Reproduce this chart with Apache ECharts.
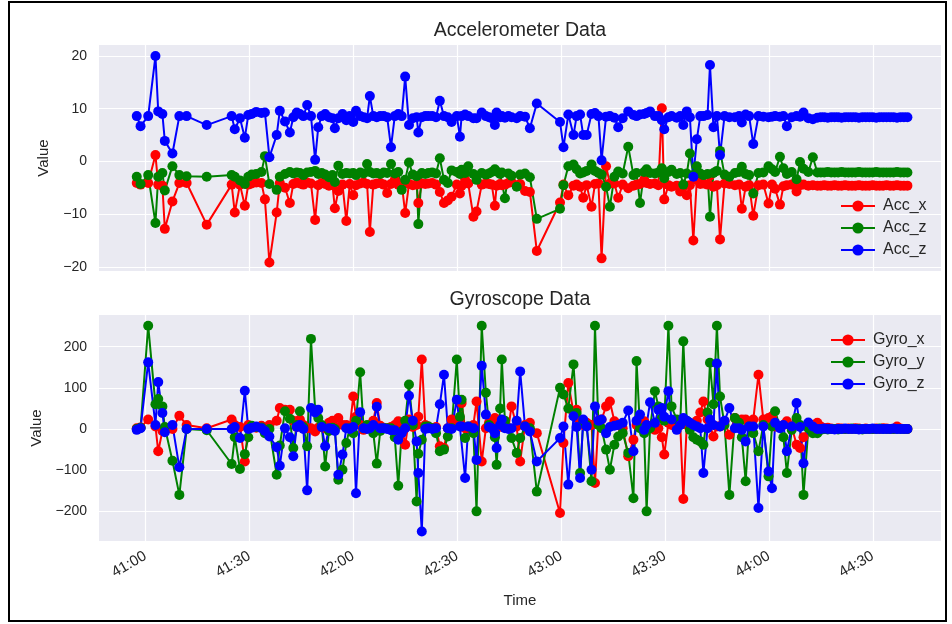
<!DOCTYPE html>
<html>
<head>
<meta charset="utf-8">
<script src="https://cdn.jsdelivr.net/npm/echarts@6/dist/echarts.min.js"></script>
<style>
  html, body { margin: 0; padding: 0; background: #fff; }
  #chart { width: 952px; height: 624px; }
</style>
</head>
<body>
<div id="chart"></div>
<script>
// time of each sample, in seconds after hh:40:00
const timeSec = [
  57.5, 58.6, 60.8, 62.9, 63.7, 64.9, 65.6, 67.8, 69.8, 71.9, 77.7, 84.9, 85.8, 87.3, 88.7, 89.7, 90.7, 92.0, 93.5, 94.5, 95.8, 97.9, 98.8, 100.3,
  101.7, 102.7, 103.7, 104.6, 105.6, 106.7, 107.8, 109.0, 109.9, 110.9, 111.9, 113.0, 114.0, 114.7, 115.7, 116.9, 118.0, 119.0, 120.0, 120.8,
  122.0, 123.0, 124.0, 124.8, 125.8, 126.8, 127.8, 128.8, 129.8, 130.9, 132.0, 133.0, 134.0, 135.0, 136.1, 137.2, 138.3, 138.8, 139.8, 140.8,
  141.7, 142.8, 143.9, 145.0,
  146.2, 147.3, 148.4, 149.9, 150.8, 151.3, 152.3, 153.2, 154.7, 155.6, 157.1, 158.3, 159.2, 160.0, 160.9, 161.4, 162.4, 162.9, 163.8, 164.8,
  165.7, 167.2, 168.2, 169.6, 171.0, 173.0, 179.7, 180.7, 182.1, 183.6, 184.5, 185.5, 186.4, 187.4, 188.8, 189.8, 190.8, 191.7, 193.0, 194.1,
  195.4, 196.5, 197.8, 199.4, 200.9, 201.8, 202.8, 204.0, 204.7, 205.7, 207.1, 208.1, 209.1, 209.8, 211.0, 211.9, 213.4, 214.4, 215.3, 216.3,
  217.2, 218.2, 219.2, 220.2, 221.1, 222.3, 223.0, 224.0, 225.0, 225.9, 227.2, 228.6, 230.2, 231.4, 232.2, 233.3, 234.3, 235.5, 237.0, 238.4,
  239.9,
  240.9, 241.8, 243.2, 244.2, 245.2, 246.6, 248.0, 249.0, 250.0, 251.4, 252.7, 254.0,
  255, 256, 257, 258, 259, 260, 261, 262, 263, 264, 265, 266, 267, 268, 269, 270, 271, 272, 273, 274, 275, 276, 277, 278, 279, 280
];

const accX = [
  -4.1, -4.4, -4.1, 1.2, -4.4, -4.6, -12.8, -7.6, -4.1, -4.1, -12.0, -4.4, -9.7, -4.4, -8.4, -4.4, -4.2, -4.0, -4.1, -7.2, -19.2, -9.7, -4.1, -5.0,
  -7.9, -4.3, -4.0, -4.2, -4.4, -4.0, -4.2, -11.1, -4.5, -4.1, -4.3, -4.6, -4.4, -8.9, -5.6, -4.4, -11.3, -4.3, -6.4, -4.5,
  -4.2, -4.0, -4.3, -13.4, -4.4, -4.2, -4.1, -4.4, -6.0, -4.3, -3.5, -4.4, -4.2, -9.8, -4.3, -4.5, -4.4, -7.9, -4.2, -4.3,
  -4.2, -4.1, -4.4, -5.8,
  -7.9, -7.4, -6.7, -4.4, -6.1, -4.6, -3.5, -4.2, -10.5, -9.5, -4.4, -4.2, -4.3, -4.4, -8.4, -4.6, -4.3, -4.5, -4.4, -4.1,
  -3.9, -4.5, -4.3, -5.6, -5.8, -17.0, -7.8, -4.4, -6.4, -4.6, -4.4, -4.8, -6.9, -4.5, -8.6, -4.3, -4.2, -18.4, -0.9, -4.2,
  -4.2, -6.9, -4.4, -5.1, -4.6, -4.4, -4.3, -3.5, -4.1, -4.3, -4.2, -4.5, 10.1, -7.2, -4.5, -4.8, -4.6, -5.7, -4.8, -6.4,
  -4.5, -15.0, -3.5, -4.3, -4.2, -4.4, -2.7, -4.8, -4.5, -14.8, -4.2, -4.3, -4.5, -4.4, -9.0, -4.8, -4.5, -10.3, -4.5, -4.4,
  -8.0,
  -4.4, -5.2, -8.2, -4.7, -4.5, -4.4, -5.7, -4.5, -4.4, -4.6, -4.5, -4.6,
  -4.6, -4.5, -4.6, -4.6, -4.5, -4.6, -4.6, -4.5, -4.6, -4.6, -4.6, -4.5, -4.6, -4.6, -4.6, -4.5, -4.6, -4.6, -4.6, -4.5, -4.6, -4.6, -4.5, -4.6, -4.6, -4.6
];

// second accelerometer trace (green), labelled Acc_z in the legend
const accZa = [
  -2.9, -4.3, -2.6, -11.7, -2.9, -2.2, -5.5, -0.9, -2.6, -2.8, -2.9, -2.6, -2.9, -3.6, -4.3, -2.9, -2.5, -2.4, -2.0, 1.0, -4.3, -5.4, -2.9, -2.4,
  -2.0, -2.3, -2.1, -2.2, -2.6, -2.1, -2.0, -1.8, -2.4, -2.2, -2.5, -3.0, -2.6, -3.9, -0.8, -2.4, -2.2, -2.3, -2.2, -2.6,
  -2.1, -2.3, -0.5, -2.0, -2.3, -2.2, -2.4, -2.1, -2.2, -0.5, -2.3, -2.0, -5.4, -3.5, -0.2, -2.5, -2.8, -11.9, -2.2, -2.4,
  -2.2, -2.1, -2.3, 0.6,
  -3.5, -4.1, -1.7, -2.0, -2.4, -1.6, -2.2, -0.9, -2.4, -3.5, -2.2, -2.5, -2.3, -2.0, -1.5, -1.9, -2.4, -2.1, -7.0, -2.3,
  -2.7, -4.8, -2.5, -2.3, -3.0, -10.9, -9.0, -4.5, -0.9, -0.6, -1.5, -2.3, -2.1, -1.8, -0.6, -1.8, -2.2, -2.5, -4.8, -8.6,
  -2.9, -1.9, -2.3, 2.8, -2.6, -2.2, -7.9, -2.0, -1.5, -2.2, -2.3, -2.1, -1.3, -3.2, -2.0, -1.6, -2.4, -2.2, -4.4, -2.3,
  1.5, -2.6, -0.9, -2.3, -2.6, -2.4, -10.5, -2.2, -1.8, 2.0, -2.5, -2.9, -2.2, -2.0, -1.0, -2.4, -2.6, -6.1, -2.2, -2.1,
  -0.9,
  -1.5, -2.0, 0.9, -1.3, -2.4, -2.0, -3.4, -0.1, -1.4, -2.0, 0.8, -2.1,
  -2.1, -2.1, -2.0, -2.1, -2.1, -2.1, -2.0, -2.1, -2.1, -2.1, -2.1, -2.0, -2.1, -2.1, -2.1, -2.1, -2.0, -2.1, -2.1, -2.1, -2.1, -2.1, -2.0, -2.1, -2.1, -2.1
];

// third accelerometer trace (blue), also labelled Acc_z
const accZb = [
  8.6, 6.7, 8.6, 20.0, 9.5, 9.0, 3.9, 1.5, 8.6, 8.6, 6.9, 8.6, 6.1, 8.2, 4.5, 8.8, 9.0, 9.4, 9.2, 9.3, 0.8, 5.0, 9.6, 7.6,
  5.5, 8.4, 9.3, 9.0, 8.6, 10.7, 8.6, 0.3, 6.5, 8.6, 9.0, 8.4, 8.2, 6.3, 8.2, 9.0, 7.8, 8.6, 7.5, 9.6,
  8.6, 8.4, 8.2, 12.4, 8.6, 8.4, 8.6, 8.6, 8.4, 2.7, 8.6, 9.0, 8.6, 16.1, 6.9, 8.2, 8.4, 5.5, 8.4, 8.6,
  8.6, 8.6, 8.4, 11.5,
  8.6, 8.4, 7.5, 8.6, 4.7, 8.6, 8.9, 8.6, 8.2, 8.2, 9.3, 8.6, 8.4, 8.2, 6.9, 9.3, 8.4, 8.6, 8.3, 8.6,
  8.4, 8.2, 8.6, 8.5, 6.3, 11.0, 7.5, 2.7, 8.9, 5.0, 8.6, 8.9, 5.0, 5.0, 9.0, 9.2, 8.6, 0.2, 8.5, 8.6,
  8.3, 6.5, 8.2, 9.5, 8.8, 8.6, 8.9, 9.0, 9.2, 9.5, 8.6, 8.6, 7.8, 6.1, 8.4, 8.6, 8.3, 8.6, 6.9, 9.5,
  8.4, -2.9, 4.2, 8.6, 8.6, 8.8, 18.3, 6.5, 8.6, 1.2, 8.6, 8.4, 8.4, 8.6, 7.4, 8.9, 8.6, 3.3, 8.6, 8.5,
  8.4,
  8.5, 8.6, 8.5, 8.6, 6.7, 8.4, 8.6, 8.5, 9.3, 8.2, 8.0, 8.3,
  8.4, 8.4, 8.3, 8.4, 8.4, 8.4, 8.3, 8.4, 8.4, 8.4, 8.4, 8.3, 8.4, 8.4, 8.4, 8.4, 8.3, 8.4, 8.4, 8.4, 8.4, 8.4, 8.3, 8.4, 8.4, 8.4
];

const gyroX = [
  2, 4, 23, 6, -54, -5, 0, 0, 32, 10, 2, 23, 10, 5, -79, 10, 5, 3, 8, 2, 10, 20, 51, 47,
  47, 20, 5, 23, 10, 2, 2, -6, 3, 5, 2, 15, 20, 5, 27, 10, 10, 5, 79, 30,
  10, -2, 2, 5, 20, 63, 8, 2, 2, 5, 10, 19, 5, -38, 23, 5, 10, 30, 169, 10,
  6, 2, 5, -42,
  -46, 2, 23, 10, 15, 63, 2, 2, 10, 67, -79, 2, 15, 5, 27, 15, 10, 5, 5, 2,
  55, 6, -79, 10, 15, -10, -204, -34, 112, 40, 47, 20, 10, 15, 10, -131, 20, 23, 55, 67,
  19, 10, 2, -66, -26, 10, 19, 19, 10, 5, -2, 2, -20, -62, 15, 10, 6, 15, -170, 10,
  6, 10, 20, 40, 67, 23, 10, -18, 6, 6, 19, -14, 27, 20, 23, 23, 10, 23, 132, 23,
  27,
  31, 6, 6, 10, 19, 6, -38, -46, -20, 6, 10, 15,
  6, 2, 3, 1, 0, 2, 1, 0, 1, 0, 2, 1, 0, 1, 0, 0, 1, 0, 2, 1, 0, 0, 6, 1, 0, 0
];

const gyroY = [
  0, 3, 251, 60, 73, 55, 5, -77, -160, 0, -3, -85, -20, -97, -61, -20, 8, 5, 4, -10, 0, -111, -40, 43,
  25, -46, 10, 43, 5, -42, 219, 47, 27, 10, -91, -5, 3, 0, -123, -99, -34, 2, -10, 20,
  138, 2, 10, 5, -10, -84, -5, 2, 2, 2, -20, -138, -6, 20, 108, 10, -176, -60, -26, 6,
  6, 2, -10, -54,
  -50, -18, 2, 169, 30, 71, -22, 6, -10, -200, 251, 88, 10, 2, -20, -87, 50, 169, 20, 2,
  -22, -58, -22, 6, 2, -152, 100, 84, 50, 157, 39, -107, 15, 10, -127, 251, 10, 2, -50, -99,
  -38, -18, -10, -58, -168, 165, 2, -10, -200, 2, 92, 55, 27, 20, 251, 55, 23, 10, 213, 20,
  -2, -20, -26, -30, -38, 40, 161, 60, 251, 79, 10, -160, 27, 15, -20, -127, 6, -10, -54, 10,
  -115,
  6, 43, 6, -20, -107, -2, 27, 10, -160, 2, -10, -10,
  -2, 0, -1, 0, 0, -1, 0, 0, 0, 1, 0, 0, -1, 0, 0, 0, 0, 1, 0, 0, 0, 0, 0, 0, 0, 0
];

const gyroZ = [
  -2, 2, 162, 10, 114, 39, -8, 10, -93, 0, 0, 0, 5, -22, 93, 0, 3, 6, 2, -5, -18, -44, -89, 2,
  -20, -66, 5, 10, 0, -149, 51, 40, 47, 5, -42, 2, 0, -5, -111, -62, 2, 0, 5, -156,
  41, 2, 0, 2, 10, 54, 2, 2, 0, -3, -3, -26, -10, 2, 81, 20, -30, -107, -249, 0,
  2, 0, 2, 60,
  132, 2, 0, 71, 6, 6, -119, 6, 2, -75, 154, 35, 5, 2, -10, -46, 10, 23, 2, 0,
  2, 20, 140, 6, -6, -79, -22, 6, -135, 31, 5, -119, 23, 6, -99, 55, 20, 23, -10, 5,
  8, 10, 15, 45, -54, 20, 35, -2, 10, 65, 15, 47, 51, 30, 92, 23, -2, 10, 27, 20,
  15, 10, 6, 2, -107, 2, 23, 10, 159, 6, 20, 51, 2, 2, -2, -30, 6, 6, -192, 6,
  -103,
  -144, 15, 2, 10, -54, 6, 63, 5, -83, 16, 6, 0,
  0, 1, 0, 0, -1, 0, 0, 1, 0, 0, 0, -1, 0, 0, 0, 1, 0, 0, 0, 0, 0, 1, 0, 0, 0, 0
];

const timeTicks = [60, 90, 120, 150, 180, 210, 240, 270];
const accTicks = [-20, -10, 0, 10, 20];
const gyroTicks = [-200, -100, 0, 100, 200];

const FONT = 'Liberation Sans, Arial, sans-serif';
const TEXT = '#262626';

function toPairs(vals) {
  return timeSec.map((t, i) => [t, vals[i]]);
}

function fmtTime(v) {
  let m = 40 + Math.floor(v / 60);
  let s = Math.round(v % 60);
  return m + ':' + (s < 10 ? '0' + s : s);
}

function fmtNum(v) {
  return String(v).replace('-', '\u2212');
}

function makeSeries(name, vals, color, idx) {
  return {
    name: name,
    type: 'line',
    xAxisIndex: idx,
    yAxisIndex: idx,
    data: toPairs(vals),
    symbol: 'circle',
    symbolSize: 10,
    showAllSymbol: true,
    lineStyle: { color: color, width: 2 },
    itemStyle: { color: color },
    emphasis: { disabled: true }
  };
}

function xAxisFor(idx, showLabels) {
  return {
    type: 'value',
    gridIndex: idx,
    min: 46.6,
    max: 289.7,
    axisLine: { show: false },
    axisTick: { show: true, length: 0, customValues: timeTicks },
    axisLabel: {
      show: showLabels,
      customValues: timeTicks,
      formatter: fmtTime,
      rotate: 30,
      margin: 14,
      color: TEXT,
      fontSize: 15,
      fontFamily: FONT
    },
    splitLine: { show: true, lineStyle: { color: '#ffffff', width: 1.2 } },
    name: showLabels ? 'Time' : '',
    nameLocation: 'middle',
    nameGap: 52,
    nameTextStyle: { color: TEXT, fontSize: 15, fontFamily: FONT }
  };
}

function yAxisFor(idx, min, max, ticks) {
  return {
    type: 'value',
    gridIndex: idx,
    min: min,
    max: max,
    axisLine: { show: false },
    axisTick: { show: true, length: 0, customValues: ticks },
    axisLabel: {
      customValues: ticks,
      formatter: fmtNum,
      margin: 12,
      color: TEXT,
      fontSize: 14,
      fontFamily: FONT
    },
    splitLine: { show: true, lineStyle: { color: '#ffffff', width: 1.2 } },
    name: 'Value',
    nameLocation: 'middle',
    nameRotate: 90,
    nameGap: 48,
    nameTextStyle: { color: TEXT, fontSize: 15, fontFamily: FONT }
  };
}

function legendAt(left, top, names) {
  return {
    orient: 'vertical',
    left: left,
    top: top,
    itemWidth: 34,
    itemHeight: 14,
    itemGap: 6,
    data: names,
    formatter: function (n) { return n === 'Acc_y' ? 'Acc_z' : n; },
    textStyle: { color: TEXT, fontSize: 16, fontFamily: FONT, padding: [0, 0, 0, 3] },
    selectedMode: false
  };
}

const chart = echarts.init(document.getElementById('chart'), null, { renderer: 'canvas' });

const option = {
  backgroundColor: '#ffffff',
  animation: false,
  grid: [
    { left: 99, top: 45, width: 842, height: 226, show: true, backgroundColor: '#EAEAF2', borderWidth: 0 },
    { left: 99, top: 315, width: 842, height: 226, show: true, backgroundColor: '#EAEAF2', borderWidth: 0 }
  ],
  xAxis: [xAxisFor(0, false), xAxisFor(1, true)],
  yAxis: [
    yAxisFor(0, -20.8, 22.1, accTicks),
    yAxisFor(1, -272, 277, gyroTicks)
  ],
  legend: [
    legendAt(835, 193, ['Acc_x', 'Acc_y', 'Acc_z']),
    legendAt(825, 327, ['Gyro_x', 'Gyro_y', 'Gyro_z'])
  ],
  series: [
    makeSeries('Acc_x', accX, '#ff0000', 0),
    makeSeries('Acc_y', accZa, '#008000', 0),
    makeSeries('Acc_z', accZb, '#0000ff', 0),
    makeSeries('Gyro_x', gyroX, '#ff0000', 1),
    makeSeries('Gyro_y', gyroY, '#008000', 1),
    makeSeries('Gyro_z', gyroZ, '#0000ff', 1)
  ],
  graphic: [
    {
      type: 'text', x: 520, y: 31,
      style: { text: 'Accelerometer Data', align: 'center', verticalAlign: 'middle', fill: TEXT, font: '19.5px ' + FONT }
    },
    {
      type: 'text', x: 520, y: 300,
      style: { text: 'Gyroscope Data', align: 'center', verticalAlign: 'middle', fill: TEXT, font: '19.5px ' + FONT }
    },
    {
      type: 'rect', shape: { x: 9, y: 2, width: 937, height: 619 },
      style: { fill: 'none', stroke: '#000', lineWidth: 2 }, silent: true
    }
  ]
};

chart.setOption(option);
</script>
</body>
</html>
